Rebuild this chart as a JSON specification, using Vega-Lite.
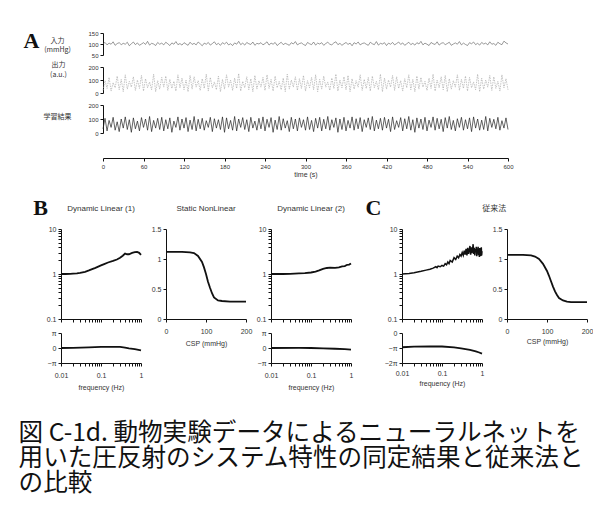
{
"$schema": "https://vega.github.io/schema/vega-lite/v6.json",
"padding": {"left": 18, "top": 30, "right": 0, "bottom": 0},
"background": "white",
"spacing": 20,
"title": {"text": ["図 C-1d. 動物実験データによるニューラルネットを", "用いた圧反射のシステム特性の同定結果と従来法と", "の比較"], "orient": "bottom", "anchor": "start", "font": "Noto Sans CJK JP", "fontSize": 24.6, "lineHeight": 25, "offset": 32, "dx": -5, "fontWeight": "normal", "color": "#111"},
"datasets": {
"ts": [
{"t":0,"a":101,"b":20,"c":30},{"t":3,"a":107,"b":95,"c":105},{"t":6,"a":96,"b":35,"c":15},{"t":9,"a":104,"b":120,"c":90},{"t":12,"a":99,"b":15,"c":40},{"t":15,"a":110,"b":80,"c":112},{"t":18,"a":94,"b":40,"c":20},{"t":21,"a":102,"b":130,"c":80},{"t":24,"a":106,"b":25,"c":10},{"t":27,"a":97,"b":105,"c":100},
{"t":30,"a":103,"b":10,"c":35},{"t":33,"a":99,"b":140,"c":115},{"t":36,"a":108,"b":30,"c":25},{"t":39,"a":92,"b":90,"c":95},{"t":42,"a":101,"b":45,"c":5},{"t":45,"a":109,"b":125,"c":108},{"t":48,"a":97,"b":20,"c":30},{"t":51,"a":105,"b":100,"c":85},{"t":54,"a":94,"b":35,"c":15},{"t":57,"a":100,"b":135,"c":110},
{"t":60,"a":106,"b":15,"c":40},{"t":63,"a":98,"b":110,"c":100},{"t":66,"a":112,"b":40,"c":20},{"t":69,"a":95,"b":85,"c":118},{"t":72,"a":103,"b":25,"c":10},{"t":75,"a":100,"b":145,"c":90},{"t":78,"a":93,"b":10,"c":35},{"t":81,"a":107,"b":95,"c":105},{"t":84,"a":99,"b":30,"c":25},{"t":87,"a":104,"b":120,"c":112},
{"t":90,"a":96,"b":45,"c":15},{"t":93,"a":108,"b":130,"c":95},{"t":96,"a":101,"b":20,"c":30},{"t":99,"a":93,"b":105,"c":108},{"t":102,"a":105,"b":35,"c":5},{"t":105,"a":99,"b":90,"c":85},{"t":108,"a":111,"b":15,"c":40},{"t":111,"a":97,"b":140,"c":115},{"t":114,"a":102,"b":40,"c":20},{"t":117,"a":95,"b":115,"c":100},
{"t":120,"a":106,"b":25,"c":35},{"t":123,"a":100,"b":100,"c":110},{"t":126,"a":94,"b":10,"c":10},{"t":129,"a":108,"b":135,"c":92},{"t":132,"a":98,"b":30,"c":25},{"t":135,"a":103,"b":125,"c":118},{"t":138,"a":96,"b":45,"c":15},{"t":141,"a":109,"b":95,"c":98},{"t":144,"a":101,"b":20,"c":30},{"t":147,"a":92,"b":110,"c":105},
{"t":150,"a":104,"b":35,"c":20},{"t":153,"a":99,"b":145,"c":88},{"t":156,"a":107,"b":15,"c":40},{"t":159,"a":95,"b":120,"c":112},{"t":162,"a":102,"b":40,"c":10},{"t":165,"a":110,"b":85,"c":102},{"t":168,"a":97,"b":25,"c":35},{"t":171,"a":103,"b":130,"c":95},{"t":174,"a":94,"b":10,"c":25},{"t":177,"a":106,"b":105,"c":115},
{"t":180,"a":100,"b":30,"c":5},{"t":183,"a":108,"b":140,"c":108},{"t":186,"a":96,"b":45,"c":30},{"t":189,"a":101,"b":100,"c":90},{"t":192,"a":93,"b":20,"c":20},{"t":195,"a":105,"b":115,"c":118},{"t":198,"a":99,"b":35,"c":15},{"t":201,"a":112,"b":150,"c":100},{"t":204,"a":97,"b":15,"c":40},{"t":207,"a":104,"b":90,"c":110},
{"t":210,"a":95,"b":40,"c":25},{"t":213,"a":107,"b":125,"c":95},{"t":216,"a":101,"b":25,"c":10},{"t":219,"a":98,"b":110,"c":112},{"t":222,"a":109,"b":10,"c":35},{"t":225,"a":94,"b":135,"c":85},{"t":228,"a":103,"b":30,"c":20},{"t":231,"a":100,"b":95,"c":105},{"t":234,"a":106,"b":45,"c":30},{"t":237,"a":96,"b":120,"c":115},
{"t":240,"a":102,"b":20,"c":15},{"t":243,"a":110,"b":140,"c":98},{"t":246,"a":95,"b":35,"c":40},{"t":249,"a":104,"b":105,"c":110},{"t":252,"a":99,"b":15,"c":5},{"t":255,"a":107,"b":130,"c":92},{"t":258,"a":93,"b":40,"c":25},{"t":261,"a":101,"b":90,"c":118},{"t":264,"a":108,"b":25,"c":20},{"t":267,"a":97,"b":115,"c":102},
{"t":270,"a":103,"b":10,"c":35},{"t":273,"a":99,"b":145,"c":88},{"t":276,"a":94,"b":30,"c":10},{"t":279,"a":106,"b":100,"c":112},{"t":282,"a":100,"b":45,"c":30},{"t":285,"a":111,"b":125,"c":100},{"t":288,"a":96,"b":20,"c":15},{"t":291,"a":102,"b":110,"c":108},{"t":294,"a":105,"b":35,"c":40},{"t":297,"a":98,"b":135,"c":95},
{"t":300,"a":93,"b":15,"c":20},{"t":303,"a":107,"b":95,"c":115},{"t":306,"a":101,"b":40,"c":25},{"t":309,"a":97,"b":120,"c":90},{"t":312,"a":109,"b":25,"c":10},{"t":315,"a":95,"b":140,"c":105},{"t":318,"a":104,"b":10,"c":35},{"t":321,"a":100,"b":105,"c":112},{"t":324,"a":106,"b":30,"c":15},{"t":327,"a":94,"b":130,"c":98},
{"t":330,"a":102,"b":45,"c":30},{"t":333,"a":108,"b":85,"c":118},{"t":336,"a":99,"b":20,"c":20},{"t":339,"a":96,"b":115,"c":95},{"t":342,"a":105,"b":35,"c":40},{"t":345,"a":110,"b":145,"c":108},{"t":348,"a":97,"b":15,"c":5},{"t":351,"a":103,"b":100,"c":100},{"t":354,"a":94,"b":40,"c":25},{"t":357,"a":101,"b":125,"c":112},
{"t":360,"a":107,"b":25,"c":15},{"t":363,"a":98,"b":135,"c":90},{"t":366,"a":104,"b":10,"c":35},{"t":369,"a":92,"b":110,"c":115},{"t":372,"a":106,"b":30,"c":20},{"t":375,"a":100,"b":95,"c":102},{"t":378,"a":109,"b":45,"c":30},{"t":381,"a":96,"b":140,"c":110},{"t":384,"a":102,"b":20,"c":10},{"t":387,"a":105,"b":105,"c":95},
{"t":390,"a":99,"b":35,"c":40},{"t":393,"a":94,"b":120,"c":108},{"t":396,"a":108,"b":15,"c":25},{"t":399,"a":101,"b":130,"c":118},{"t":402,"a":97,"b":40,"c":15},{"t":405,"a":111,"b":90,"c":92},{"t":408,"a":95,"b":25,"c":30},{"t":411,"a":103,"b":145,"c":105},{"t":414,"a":100,"b":10,"c":20},{"t":417,"a":106,"b":115,"c":112},
{"t":420,"a":93,"b":30,"c":35},{"t":423,"a":104,"b":100,"c":98},{"t":426,"a":99,"b":45,"c":10},{"t":429,"a":107,"b":135,"c":115},{"t":432,"a":96,"b":20,"c":25},{"t":435,"a":102,"b":125,"c":88},{"t":438,"a":109,"b":35,"c":40},{"t":441,"a":98,"b":95,"c":110},{"t":444,"a":105,"b":15,"c":15},{"t":447,"a":94,"b":110,"c":102},
{"t":450,"a":101,"b":40,"c":30},{"t":453,"a":108,"b":140,"c":118},{"t":456,"a":97,"b":25,"c":20},{"t":459,"a":103,"b":105,"c":95},{"t":462,"a":95,"b":10,"c":5},{"t":465,"a":106,"b":130,"c":108},{"t":468,"a":100,"b":30,"c":35},{"t":471,"a":112,"b":120,"c":100},{"t":474,"a":96,"b":45,"c":25},{"t":477,"a":104,"b":90,"c":112},
{"t":480,"a":99,"b":20,"c":15},{"t":483,"a":93,"b":115,"c":92},{"t":486,"a":107,"b":35,"c":40},{"t":489,"a":101,"b":145,"c":115},{"t":492,"a":98,"b":15,"c":20},{"t":495,"a":110,"b":100,"c":105},{"t":498,"a":95,"b":40,"c":30},{"t":501,"a":103,"b":125,"c":98},{"t":504,"a":106,"b":25,"c":10},{"t":507,"a":97,"b":135,"c":110},
{"t":510,"a":102,"b":10,"c":35},{"t":513,"a":108,"b":110,"c":118},{"t":516,"a":94,"b":30,"c":25},{"t":519,"a":100,"b":95,"c":90},{"t":522,"a":105,"b":45,"c":15},{"t":525,"a":99,"b":140,"c":102},{"t":528,"a":111,"b":20,"c":40},{"t":531,"a":96,"b":105,"c":112},{"t":534,"a":104,"b":35,"c":20},{"t":537,"a":98,"b":130,"c":95},
{"t":540,"a":93,"b":15,"c":30},{"t":543,"a":106,"b":120,"c":108},{"t":546,"a":101,"b":40,"c":10},{"t":549,"a":109,"b":85,"c":115},{"t":552,"a":97,"b":25,"c":35},{"t":555,"a":103,"b":145,"c":100},{"t":558,"a":95,"b":10,"c":20},{"t":561,"a":107,"b":115,"c":92},{"t":564,"a":100,"b":30,"c":25},{"t":567,"a":104,"b":100,"c":118},
{"t":570,"a":96,"b":45,"c":15},{"t":573,"a":110,"b":135,"c":105},{"t":576,"a":99,"b":20,"c":40},{"t":579,"a":102,"b":125,"c":98},{"t":582,"a":94,"b":35,"c":30},{"t":585,"a":108,"b":90,"c":112},{"t":588,"a":101,"b":15,"c":20},{"t":591,"a":97,"b":140,"c":88},{"t":594,"a":113,"b":40,"c":35},{"t":597,"a":105,"b":110,"c":108},
{"t":600,"a":100,"b":25,"c":25}
],
"b1m": [{"f":0.01,"v":1.0},{"f":0.013,"v":1.0},{"f":0.017,"v":1.01},{"f":0.02,"v":1.02},{"f":0.025,"v":1.03},{"f":0.03,"v":1.06},{"f":0.04,"v":1.12},{"f":0.05,"v":1.2},{"f":0.06,"v":1.28},{"f":0.07,"v":1.35},{"f":0.08,"v":1.42},{"f":0.1,"v":1.55},{"f":0.12,"v":1.66},{"f":0.15,"v":1.8},{"f":0.2,"v":1.95},{"f":0.25,"v":2.1},{"f":0.3,"v":2.3},{"f":0.35,"v":2.55},{"f":0.4,"v":2.85},{"f":0.45,"v":2.75},{"f":0.5,"v":2.75},{"f":0.6,"v":2.95},{"f":0.7,"v":3.05},{"f":0.8,"v":3.1},{"f":0.9,"v":2.95},{"f":1.0,"v":2.65}],
"b1p": [{"f":0.01,"p":0.0},{"f":0.02,"p":0.01},{"f":0.05,"p":0.04},{"f":0.1,"p":0.07},{"f":0.2,"p":0.08},{"f":0.3,"p":0.07},{"f":0.4,"p":0.03},{"f":0.5,"p":-0.02},{"f":0.7,"p":-0.08},{"f":1.0,"p":-0.16}],
"b2": [{"x":0,"y":1.12},{"x":20,"y":1.12},{"x":40,"y":1.12},{"x":60,"y":1.11},{"x":70,"y":1.1},{"x":80,"y":1.05},{"x":90,"y":0.95},{"x":95,"y":0.86},{"x":100,"y":0.75},{"x":105,"y":0.62},{"x":110,"y":0.52},{"x":115,"y":0.43},{"x":120,"y":0.36},{"x":130,"y":0.31},{"x":140,"y":0.3},{"x":160,"y":0.29},{"x":200,"y":0.29}],
"b3m": [{"f":0.01,"v":1.0},{"f":0.02,"v":1.0},{"f":0.03,"v":1.01},{"f":0.05,"v":1.03},{"f":0.07,"v":1.05},{"f":0.1,"v":1.08},{"f":0.13,"v":1.13},{"f":0.16,"v":1.2},{"f":0.2,"v":1.3},{"f":0.25,"v":1.36},{"f":0.3,"v":1.38},{"f":0.4,"v":1.37},{"f":0.5,"v":1.4},{"f":0.6,"v":1.48},{"f":0.7,"v":1.5},{"f":0.8,"v":1.6},{"f":0.9,"v":1.62},{"f":1.0,"v":1.72}],
"b3p": [{"f":0.01,"p":0.0},{"f":0.05,"p":0.01},{"f":0.1,"p":0.0},{"f":0.2,"p":-0.02},{"f":0.4,"p":-0.05},{"f":0.7,"p":-0.08},{"f":1.0,"p":-0.11}],
"c1m": [{"f":0.01,"v":1.0},{"f":0.015,"v":1.03},{"f":0.02,"v":1.07},{"f":0.03,"v":1.15},{"f":0.04,"v":1.22},{"f":0.05,"v":1.28},{"f":0.06,"v":1.35},{"f":0.07,"v":1.45},{"f":0.075,"v":1.38},{"f":0.08,"v":1.5},{"f":0.09,"v":1.45},{"f":0.1,"v":1.55},{"f":0.11,"v":1.5},{"f":0.12,"v":1.7},{"f":0.13,"v":1.6},{"f":0.14,"v":1.85},{"f":0.15,"v":1.7},{"f":0.16,"v":2.0},{"f":0.18,"v":1.85},{"f":0.2,"v":2.3},{"f":0.22,"v":2.1},{"f":0.24,"v":2.5},{"f":0.26,"v":2.3},{"f":0.28,"v":2.7},{"f":0.3,"v":2.5},{"f":0.32,"v":3.0},{"f":0.34,"v":2.6},{"f":0.36,"v":3.3},{"f":0.38,"v":2.7},{"f":0.4,"v":3.6},{"f":0.42,"v":2.6},{"f":0.44,"v":3.8},{"f":0.46,"v":2.8},{"f":0.48,"v":3.4},{"f":0.5,"v":4.2},{"f":0.52,"v":2.7},{"f":0.54,"v":3.9},{"f":0.56,"v":2.9},{"f":0.58,"v":3.5},{"f":0.6,"v":4.6},{"f":0.62,"v":2.8},{"f":0.64,"v":3.8},{"f":0.66,"v":2.6},{"f":0.68,"v":3.6},{"f":0.7,"v":3.1},{"f":0.72,"v":4.0},{"f":0.74,"v":2.5},{"f":0.76,"v":3.7},{"f":0.78,"v":2.9},{"f":0.8,"v":4.0},{"f":0.82,"v":2.6},{"f":0.84,"v":3.5},{"f":0.86,"v":2.4},{"f":0.88,"v":3.8},{"f":0.9,"v":2.7},{"f":0.92,"v":3.4},{"f":0.94,"v":2.5},{"f":0.96,"v":3.9},{"f":0.98,"v":2.6},{"f":1.0,"v":3.2}],
"c1p": [{"f":0.01,"p":-0.95},{"f":0.02,"p":-0.91},{"f":0.05,"p":-0.89},{"f":0.1,"p":-0.9},{"f":0.2,"p":-0.96},{"f":0.3,"p":-1.02},{"f":0.5,"p":-1.12},{"f":0.7,"p":-1.22},{"f":0.85,"p":-1.3},{"f":1.0,"p":-1.38}],
"c2": [{"x":0,"y":1.07},{"x":20,"y":1.07},{"x":40,"y":1.07},{"x":50,"y":1.065},{"x":60,"y":1.06},{"x":70,"y":1.04},{"x":80,"y":1.0},{"x":90,"y":0.92},{"x":100,"y":0.8},{"x":105,"y":0.72},{"x":110,"y":0.63},{"x":115,"y":0.54},{"x":120,"y":0.46},{"x":125,"y":0.4},{"x":130,"y":0.35},{"x":140,"y":0.31},{"x":150,"y":0.29},{"x":160,"y":0.28},{"x":180,"y":0.28},{"x":200,"y":0.28}]
},
"vconcat": [
{
"columns": 2,
"bounds": "flush",
"spacing": {"row": 12, "column": 67},
"concat": [
{"width": 1, "height": 22, "title": {"text": "A", "font": "Liberation Serif", "fontSize": 22, "fontWeight": "bold", "color": "#111", "anchor": "middle", "dx": -4, "dy": 24}, "data": {"values": [{}]}, "mark": {"type": "text"}, "encoding": {"text": {"value": ""}}},
{"width": 405, "height": 22, "data": {"name": "ts"}, "mark": {"type": "line", "strokeWidth": 0.6, "color": "#555"},
 "encoding": {"x": {"field": "t", "type": "quantitative", "scale": {"domain": [0, 600]}, "axis": null},
  "y": {"field": "a", "type": "quantitative", "scale": {"domain": [50, 150]}, "axis": {"values": [50, 100, 150], "title": ["入力", "(mmHg)"], "titleAngle": 0, "titleFont": "Noto Sans CJK JP", "titleFontSize": 7, "titleAlign": "center", "titleBaseline": "middle", "titleX": -46, "titleY": 7, "titleLineHeight": 9, "labelFontSize": 6}}}},
{"width": 1, "height": 1, "data": {"values": [{}]}, "mark": {"type": "text"}, "encoding": {"text": {"value": ""}}},
{"width": 405, "height": 26, "data": {"name": "ts"}, "mark": {"type": "line", "strokeWidth": 0.7, "color": "#aaa", "strokeDash": [1.5, 1]},
 "encoding": {"x": {"field": "t", "type": "quantitative", "scale": {"domain": [0, 600]}, "axis": null},
  "y": {"field": "b", "type": "quantitative", "scale": {"domain": [0, 200]}, "axis": {"values": [0, 100, 200], "title": ["出力", "(a.u.)"], "titleAngle": 0, "titleFont": "Noto Sans CJK JP", "titleFontSize": 7, "titleAlign": "center", "titleBaseline": "middle", "titleX": -45, "titleY": -3, "titleLineHeight": 10, "labelFontSize": 6}}}},
{"width": 1, "height": 1, "data": {"values": [{}]}, "mark": {"type": "text"}, "encoding": {"text": {"value": ""}}},
{"width": 405, "height": 28, "data": {"name": "ts"}, "mark": {"type": "line", "strokeWidth": 0.7, "color": "#222"},
 "encoding": {"x": {"field": "t", "type": "quantitative", "scale": {"domain": [0, 600]}, "axis": {"values": [0, 60, 120, 180, 240, 300, 360, 420, 480, 540, 600], "offset": 25, "title": "time (s)", "titleFontSize": 7, "titlePadding": 1, "labelFontSize": 6, "labelFlush": false}},
  "y": {"field": "c", "type": "quantitative", "scale": {"domain": [0, 200]}, "axis": {"values": [0, 100, 200], "title": "学習結果", "titleAngle": 0, "titleFont": "Noto Sans CJK JP", "titleFontSize": 7, "titleAlign": "center", "titleBaseline": "middle", "titleX": -46, "titleY": 11, "labelFontSize": 6}}}}
]
},
{
"columns": 7,
"bounds": "flush",
"spacing": {"row": 14, "column": 25},
"concat": [
{"width": 1, "height": 90, "title": {"text": "B", "font": "Liberation Serif", "fontSize": 22, "fontWeight": "bold", "color": "#111", "anchor": "middle", "dx": 5, "offset": 9}, "data": {"values": [{}]}, "mark": {"type": "text"}, "encoding": {"text": {"value": ""}}},
{"width": 80, "height": 90, "title": {"text": "Dynamic Linear (1)", "offset": 12}, "data": {"name": "b1m"}, "mark": {"type": "line", "strokeWidth": 1.8, "color": "#111"},
 "encoding": {"x": {"field": "f", "type": "quantitative", "scale": {"type": "log", "domain": [0.01, 1]}, "axis": {"values": [0.01,0.02,0.03,0.04,0.05,0.06,0.07,0.08,0.09,0.1,0.2,0.3,0.4,0.5,0.6,0.7,0.8,0.9,1], "labels": false, "title": null}},
  "y": {"field": "v", "type": "quantitative", "scale": {"type": "log", "domain": [0.1, 10]}, "axis": {"values": [0.1,0.2,0.3,0.4,0.5,0.6,0.7,0.8,0.9,1,2,3,4,5,6,7,8,9,10], "labelExpr": "datum.value == 0.1 ? '0.1' : datum.value == 1 ? '1' : datum.value == 10 ? '10' : ''", "labelOverlap": false, "title": null}}}},
{"width": 80, "height": 90, "title": {"text": "Static NonLinear", "offset": 12}, "data": {"name": "b2"}, "mark": {"type": "line", "strokeWidth": 1.8, "color": "#111"},
 "encoding": {"x": {"field": "x", "type": "quantitative", "scale": {"domain": [0, 200]}, "axis": {"values": [0, 100, 200], "title": "CSP (mmHg)", "labelPadding": 5, "titlePadding": 5}},
  "y": {"field": "y", "type": "quantitative", "scale": {"domain": [0, 1.5]}, "axis": {"values": [0, 0.5, 1, 1.5], "format": ".1~f", "title": null}}}},
{"width": 80, "height": 90, "title": {"text": "Dynamic Linear (2)", "offset": 12}, "data": {"name": "b3m"}, "mark": {"type": "line", "strokeWidth": 1.8, "color": "#111"},
 "encoding": {"x": {"field": "f", "type": "quantitative", "scale": {"type": "log", "domain": [0.01, 1]}, "axis": {"values": [0.01,0.02,0.03,0.04,0.05,0.06,0.07,0.08,0.09,0.1,0.2,0.3,0.4,0.5,0.6,0.7,0.8,0.9,1], "labels": false, "title": null}},
  "y": {"field": "v", "type": "quantitative", "scale": {"type": "log", "domain": [0.1, 10]}, "axis": {"values": [0.1,0.2,0.3,0.4,0.5,0.6,0.7,0.8,0.9,1,2,3,4,5,6,7,8,9,10], "labelExpr": "datum.value == 0.1 ? '0.1' : datum.value == 1 ? '1' : datum.value == 10 ? '10' : ''", "labelOverlap": false, "title": null}}}},
{"width": 1, "height": 90, "title": {"text": "C", "font": "Liberation Serif", "fontSize": 22, "fontWeight": "bold", "color": "#111", "anchor": "middle", "dx": -3, "offset": 9}, "data": {"values": [{}]}, "mark": {"type": "text"}, "encoding": {"text": {"value": ""}}},
{"width": 80, "height": 90, "data": {"name": "c1m"}, "mark": {"type": "line", "strokeWidth": 1.5, "color": "#111"},
 "encoding": {"x": {"field": "f", "type": "quantitative", "scale": {"type": "log", "domain": [0.01, 1]}, "axis": {"values": [0.01,0.02,0.03,0.04,0.05,0.06,0.07,0.08,0.09,0.1,0.2,0.3,0.4,0.5,0.6,0.7,0.8,0.9,1], "labels": false, "title": null}},
  "y": {"field": "v", "type": "quantitative", "scale": {"type": "log", "domain": [0.1, 10]}, "axis": {"values": [0.1,0.2,0.3,0.4,0.5,0.6,0.7,0.8,0.9,1,2,3,4,5,6,7,8,9,10], "labelExpr": "datum.value == 0.1 ? '0.1' : datum.value == 1 ? '1' : datum.value == 10 ? '10' : ''", "labelOverlap": false, "title": null}}}},
{"width": 80, "height": 90, "title": {"text": "従来法", "font": "Noto Sans CJK JP", "offset": 12, "anchor": "start", "dx": -10}, "data": {"name": "c2"}, "mark": {"type": "line", "strokeWidth": 1.8, "color": "#111"},
 "encoding": {"x": {"field": "x", "type": "quantitative", "scale": {"domain": [0, 200]}, "axis": {"values": [0, 100, 200], "title": "CSP (mmHg)", "labelPadding": 5, "titlePadding": 3}},
  "y": {"field": "y", "type": "quantitative", "scale": {"domain": [0, 1.5]}, "axis": {"values": [0, 0.5, 1, 1.5], "format": ".1~f", "title": null}}}},
{"width": 1, "height": 1, "data": {"values": [{}]}, "mark": {"type": "text"}, "encoding": {"text": {"value": ""}}},
{"width": 80, "height": 30, "data": {"name": "b1p"}, "mark": {"type": "line", "strokeWidth": 1.8, "color": "#111"},
 "encoding": {"x": {"field": "f", "type": "quantitative", "scale": {"type": "log", "domain": [0.01, 1]}, "axis": {"values": [0.01,0.02,0.03,0.04,0.05,0.06,0.07,0.08,0.09,0.1,0.2,0.3,0.4,0.5,0.6,0.7,0.8,0.9,1], "labelExpr": "datum.value == 0.01 ? '0.01' : datum.value == 0.1 ? '0.1' : datum.value == 1 ? '1' : ''", "labelOverlap": false, "labelPadding": 5, "titlePadding": 5, "title": "frequency (Hz)"}},
  "y": {"field": "p", "type": "quantitative", "scale": {"domain": [-1, 1]}, "axis": {"values": [-1, 0, 1], "labelExpr": "datum.value == 1 ? 'π' : datum.value == -1 ? '−π' : '0'", "title": null}}}},
{"width": 1, "height": 1, "data": {"values": [{}]}, "mark": {"type": "text"}, "encoding": {"text": {"value": ""}}},
{"width": 80, "height": 30, "data": {"name": "b3p"}, "mark": {"type": "line", "strokeWidth": 1.8, "color": "#111"},
 "encoding": {"x": {"field": "f", "type": "quantitative", "scale": {"type": "log", "domain": [0.01, 1]}, "axis": {"values": [0.01,0.02,0.03,0.04,0.05,0.06,0.07,0.08,0.09,0.1,0.2,0.3,0.4,0.5,0.6,0.7,0.8,0.9,1], "labelExpr": "datum.value == 0.01 ? '0.01' : datum.value == 0.1 ? '0.1' : datum.value == 1 ? '1' : ''", "labelOverlap": false, "labelPadding": 5, "titlePadding": 5, "title": "frequency (Hz)"}},
  "y": {"field": "p", "type": "quantitative", "scale": {"domain": [-1, 1]}, "axis": {"values": [-1, 0, 1], "labelExpr": "datum.value == 1 ? 'π' : datum.value == -1 ? '−π' : '0'", "title": null}}}},
{"width": 1, "height": 1, "data": {"values": [{}]}, "mark": {"type": "text"}, "encoding": {"text": {"value": ""}}},
{"width": 80, "height": 30, "data": {"name": "c1p"}, "mark": {"type": "line", "strokeWidth": 1.8, "color": "#111"},
 "encoding": {"x": {"field": "f", "type": "quantitative", "scale": {"type": "log", "domain": [0.01, 1]}, "axis": {"values": [0.01,0.02,0.03,0.04,0.05,0.06,0.07,0.08,0.09,0.1,0.2,0.3,0.4,0.5,0.6,0.7,0.8,0.9,1], "labelExpr": "datum.value == 0.01 ? '0.01' : datum.value == 0.1 ? '0.1' : datum.value == 1 ? '1' : ''", "labelOverlap": false, "labelPadding": 3, "titlePadding": 3, "title": "frequency (Hz)"}},
  "y": {"field": "p", "type": "quantitative", "scale": {"domain": [-2, 0]}, "axis": {"values": [-2, -1, 0], "labelExpr": "datum.value == 0 ? '0' : datum.value == -1 ? '−π' : '−2π'", "title": null}}}},
{"width": 1, "height": 1, "data": {"values": [{}]}, "mark": {"type": "text"}, "encoding": {"text": {"value": ""}}}
]
}
],
"config": {
 "view": {"stroke": null},
 "font": "Liberation Sans",
 "axis": {"labelFontSize": 7, "titleFontSize": 7, "titleFontWeight": "normal", "labelColor": "#333", "titleColor": "#333", "domainColor": "#111", "tickColor": "#111", "grid": false, "tickSize": 3, "labelPadding": 2, "titlePadding": 3, "labelFlush": false},
 "title": {"fontSize": 8, "fontWeight": "normal", "color": "#333", "anchor": "middle"}
}
}
